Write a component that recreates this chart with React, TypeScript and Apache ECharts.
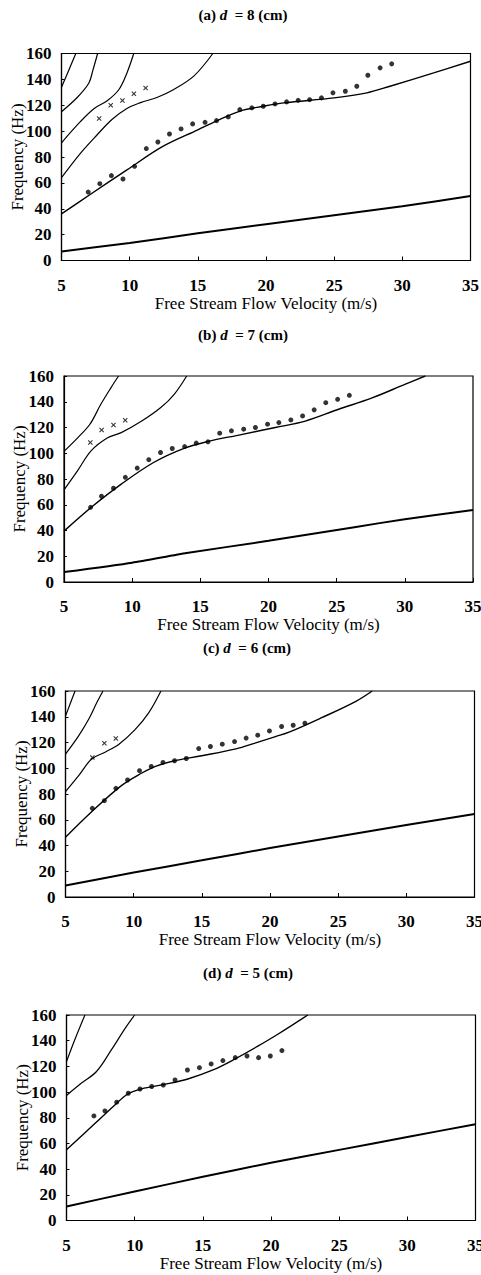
import React, { useEffect, useRef } from "react";
import * as echarts from "echarts";

type Pt = [number, number];

// ---------- Panel (a) d = 8 cm ----------
const lowA: Pt[] = [[5, 7], [10, 13.5], [15, 21], [20, 28], [25, 35], [30, 42], [35, 49.8]];
const mainA: Pt[] = [[5, 36], [7.1, 51], [9.8, 70], [12.4, 88], [15, 101], [16.4, 108], [18.1, 115.5], [19.8, 119.2], [21.3, 121.8], [25, 125.7], [27.4, 129.6], [29.1, 134.7], [32.3, 145], [35, 154]];
const mode2A: Pt[] = [[5, 64], [6.4, 83], [7.6, 97], [8.7, 109], [9.8, 117.5], [10.8, 122], [12, 126], [13.2, 132], [14.7, 142.5], [16.1, 160]];
const mode3A: Pt[] = [[5, 91], [6.4, 107.5], [7.4, 117.5], [8.35, 123.5], [9.2, 132], [9.8, 145], [10.3, 160]];
const mode4A: Pt[] = [[5, 115], [6.15, 126], [7, 137], [7.3, 147], [7.65, 160]];
const mode5A: Pt[] = [[5, 134], [5.45, 145], [6.05, 160]];
const dotsA: Pt[] = [[6.96, 52.9], [7.81, 59.4], [8.66, 65.6], [9.51, 63], [10.36, 72.8], [11.22, 86.5], [12.07, 91.6], [12.92, 97.8], [13.77, 101.7], [14.62, 105.6], [15.53, 106.8], [16.37, 108.1], [17.23, 111], [18.08, 116.6], [18.96, 118], [19.8, 119.2], [20.66, 121], [21.51, 122.6], [22.36, 123.8], [23.2, 124.3], [24.07, 125.7], [24.91, 129.6], [25.82, 130.8], [26.66, 134.7], [27.47, 143.2], [28.37, 148.9], [29.22, 152]];
const crossesA: Pt[] = [[7.76, 109.7], [8.61, 120], [9.47, 123.6], [10.31, 128.8], [11.17, 133.4]];

// ---------- Panel (b) d = 7 cm ----------
const lowB: Pt[] = [[5, 7.7], [10, 15], [14, 22.5], [20, 32], [26.3, 42.6], [30, 48.8], [35, 56]];
const mainB: Pt[] = [[5, 39.5], [7, 58], [9.2, 76], [11.6, 93], [13.85, 104], [15.5, 109], [18, 114.5], [20.5, 120], [22.7, 125], [25.1, 134], [27.6, 143], [30, 153.5], [31.5, 160]];
const mode2B: Pt[] = [[5, 71.5], [6, 86.5], [7, 102], [8.2, 112], [9.2, 116], [10.7, 125], [12.1, 135.5], [13.1, 146], [14, 160]];
const mode3B: Pt[] = [[5, 101.5], [6, 112], [6.9, 122.5], [7.7, 138], [8.45, 151], [9, 160]];
const dotsB: Pt[] = [[6.95, 58], [7.75, 66.6], [8.63, 72.8], [9.5, 81.3], [10.37, 88.5], [11.22, 95], [12.08, 100.6], [12.94, 103.7], [13.85, 105.2], [14.7, 107.9], [15.56, 108.9], [16.42, 115.6], [17.28, 117.4], [18.18, 118.7], [19.04, 120], [19.93, 122.6], [20.76, 123.8], [21.64, 125.9], [22.5, 129], [23.35, 133.7], [24.2, 139.3], [25.07, 141.9], [25.93, 145]];
const crossesB: Pt[] = [[6.93, 108.4], [7.76, 118], [8.63, 122], [9.49, 125.7]];

// ---------- Panel (c) d = 6 cm ----------
const lowC: Pt[] = [[5, 9], [10, 19], [15, 28.5], [20, 38], [25, 47], [30, 56], [35, 64.5]];
const mainC: Pt[] = [[5, 46.4], [6.9, 66], [9.1, 86.5], [10.6, 96.3], [11.6, 101.5], [13, 105.8], [15, 109.7], [17.5, 115], [18.9, 119.5], [20.4, 124.6], [21.4, 128], [23.8, 139.3], [26.3, 152], [27.5, 160]];
const mode2C: Pt[] = [[5, 81.8], [5.95, 94], [6.9, 107], [7.9, 112.5], [8.9, 118.5], [10.1, 130], [11.1, 143], [12, 160]];
const mode3C: Pt[] = [[5, 111], [5.95, 125], [6.7, 138], [7.3, 151], [7.75, 160]];
const mode4C: Pt[] = [[5, 140.6], [5.33, 149.7], [5.7, 160]];
const dotsC: Pt[] = [[6.97, 68.9], [7.85, 74.8], [8.7, 84.4], [9.55, 90.9], [10.43, 98.1], [11.29, 101.4], [12.15, 104.5], [13, 105.8], [13.86, 107.6], [14.77, 115.3], [15.63, 116.9], [16.5, 118.7], [17.4, 120.7], [18.25, 123.4], [19.1, 125.7], [19.96, 129], [20.85, 132.4], [21.7, 133.4], [22.56, 135]];
const crossesC: Pt[] = [[6.97, 108.4], [7.85, 119.5], [8.69, 123.1]];

// ---------- Panel (d) d = 5 cm ----------
const lowD: Pt[] = [[5, 10.9], [10, 22.6], [15, 34], [20, 45], [25, 55], [30, 65], [35, 75]];
const mainD: Pt[] = [[5, 55], [7.1, 75.7], [8.55, 90], [9.5, 98.5], [10.5, 102.5], [12.2, 106], [13.9, 110.2], [15.7, 117], [17.4, 126], [19, 135.5], [20.5, 145], [22.7, 160]];
const mode2D: Pt[] = [[5, 97.3], [6.1, 107], [7.2, 116], [8.3, 133], [9.3, 149.6], [10, 160]];
const mode3D: Pt[] = [[5, 123.7], [5.6, 140.5], [6.35, 160]];
const dotsD: Pt[] = [[7.01, 81.4], [7.82, 85.3], [8.68, 92.1], [9.53, 99.1], [10.39, 102.4], [11.25, 104.3], [12.1, 105.5], [12.96, 109.4], [13.87, 117.2], [14.75, 119], [15.61, 121.9], [16.47, 124.5], [17.38, 126.8], [18.24, 128.1], [19.09, 126.8], [19.95, 128.1], [20.8, 132.3]];

// ---------- Axes ----------
const xTicks = [5, 10, 15, 20, 25, 30, 35];
const yTicks = [0, 20, 40, 60, 80, 100, 120, 140, 160];
const panelLetters = ["(a) ", "(b) ", "(c) ", "(d) "];
const panelDepths = ["8", "7", "6", "5"];
const xName = "Free Stream Flow Velocity (m/s)";
const yName = "Frequency (Hz)";

const panels = [
  { low: lowA, curves: [mainA, mode2A, mode3A, mode4A, mode5A], dots: dotsA, crosses: crossesA },
  { low: lowB, curves: [mainB, mode2B, mode3B], dots: dotsB, crosses: crossesB },
  { low: lowC, curves: [mainC, mode2C, mode3C, mode4C], dots: dotsC, crosses: crossesC },
  { low: lowD, curves: [mainD, mode2D, mode3D], dots: dotsD, crosses: [] as Pt[] },
];

// layout (pixels)
const gridBoxes = [
  { left: 61.5, top: 53.5, width: 409, height: 207 },
  { left: 64, top: 376, width: 409, height: 206 },
  { left: 65.5, top: 691, width: 409, height: 206 },
  { left: 66.5, top: 1015, width: 409, height: 205.5 },
];
const titleCenters = [
  { x: 243, y: 15 },
  { x: 243, y: 335 },
  { x: 247, y: 648 },
  { x: 248, y: 973 },
];

const FONT = "Liberation Serif";
const CROSS = "path://M0,1.5 L1.5,0 L5,3.5 L8.5,0 L10,1.5 L6.5,5 L10,8.5 L8.5,10 L5,6.5 L1.5,10 L0,8.5 L3.5,5 Z";

function buildOption() {
  const grid = gridBoxes.map((g) => ({
    left: g.left,
    top: g.top,
    width: g.width,
    height: g.height,
    containLabel: false,
    outerBoundsMode: "none",
    show: true,
    borderColor: "#000",
    borderWidth: 1.2,
    backgroundColor: "transparent",
  }));
  const xAxis = gridBoxes.map((_, i) => ({
    type: "value",
    gridIndex: i,
    min: xTicks[0],
    max: xTicks[xTicks.length - 1],
    interval: 5,
    name: xName,
    nameLocation: "middle",
    nameGap: 34,
    nameMoveOverlap: false,
    nameTextStyle: { fontFamily: FONT, fontSize: 17, color: "#000" },
    axisLine: { show: true, lineStyle: { color: "#000", width: 1.2 } },
    axisTick: { show: true, inside: true, length: 4, lineStyle: { color: "#000" } },
    axisLabel: { fontFamily: FONT, fontSize: 17, fontWeight: "bold", color: "#000", margin: 16 },
    splitLine: { show: false },
  }));
  const yAxis = gridBoxes.map((_, i) => ({
    type: "value",
    gridIndex: i,
    min: yTicks[0],
    max: yTicks[yTicks.length - 1],
    interval: 20,
    name: yName,
    nameLocation: "middle",
    nameGap: 36,
    nameMoveOverlap: false,
    nameTextStyle: { fontFamily: FONT, fontSize: 17, color: "#000" },
    axisLine: { show: true, lineStyle: { color: "#000", width: 1.2 } },
    axisTick: { show: true, inside: true, length: 3, lineStyle: { color: "#000" } },
    axisLabel: { fontFamily: FONT, fontSize: 17, fontWeight: "bold", color: "#000", margin: 10 },
    splitLine: { show: false },
  }));

  const series: any[] = [];
  panels.forEach((p, i) => {
    series.push({
      type: "line",
      xAxisIndex: i,
      yAxisIndex: i,
      data: p.low,
      showSymbol: false,
      smooth: 0.2,
      lineStyle: { color: "#000", width: 2 },
      silent: true,
    });
    p.curves.forEach((c, k) => {
      series.push({
        type: "line",
        xAxisIndex: i,
        yAxisIndex: i,
        data: c,
        showSymbol: false,
        smooth: 0.35,
        lineStyle: { color: "#000", width: k === 0 ? 1.4 : 1.2 },
        silent: true,
      });
    });
    series.push({
      type: "scatter",
      xAxisIndex: i,
      yAxisIndex: i,
      data: p.dots,
      symbol: "circle",
      symbolSize: 5,
      itemStyle: { color: "#000" },
      silent: true,
    });
    if (p.crosses.length) {
      series.push({
        type: "scatter",
        xAxisIndex: i,
        yAxisIndex: i,
        data: p.crosses,
        symbol: CROSS,
        symbolSize: 5,
        itemStyle: { color: "#000" },
        silent: true,
      });
    }
  });

  const graphic = titleCenters.map((t, i) => ({
    type: "text",
    x: t.x,
    y: t.y,
    style: {
      text: `{n|${panelLetters[i]}}{i|d}{n|  = ${panelDepths[i]} (cm)}`,
      align: "center",
      verticalAlign: "middle",
      rich: {
        n: { fontFamily: FONT, fontSize: 15, fontWeight: "bold", fill: "#000" },
        i: { fontFamily: FONT, fontSize: 15, fontWeight: "bold", fontStyle: "italic", fill: "#000" },
      },
    },
  }));

  return {
    animation: false,
    backgroundColor: "#fff",
    textStyle: { fontFamily: FONT },
    grid,
    xAxis,
    yAxis,
    series,
    graphic,
  };
}

export default function App() {
  const ref = useRef<HTMLDivElement>(null);
  useEffect(() => {
    if (!ref.current) return;
    const chart = echarts.init(ref.current, undefined, { renderer: "svg" });
    chart.setOption(buildOption() as any);
    return () => chart.dispose();
  }, []);
  return (
    <div
      ref={ref}
      style={{ position: "absolute", left: 0, top: 0, width: 481, height: 1275, background: "#fff" }}
    />
  );
}
